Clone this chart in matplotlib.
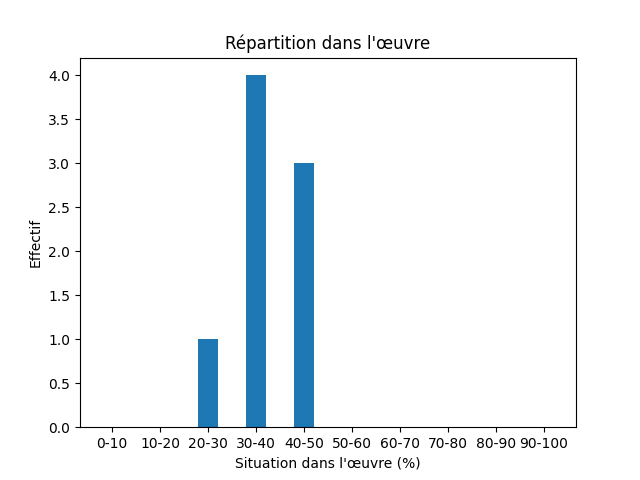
import matplotlib
matplotlib.use("Agg")
import matplotlib.pyplot as plt

categories = ["0-10", "10-20", "20-30", "30-40", "40-50", "50-60", "60-70", "70-80", "80-90", "90-100"]
counts = [0, 0, 1, 4, 3, 0, 0, 0, 0, 0]

fig, ax = plt.subplots(figsize=(6.4, 4.8), dpi=100)
ax.bar(categories, counts, width=0.4, color="#1f77b4")
ax.set_title("Répartition dans l'œuvre")
ax.set_xlabel("Situation dans l'œuvre (%)")
ax.set_ylabel("Effectif")
fig.savefig("out.png")
